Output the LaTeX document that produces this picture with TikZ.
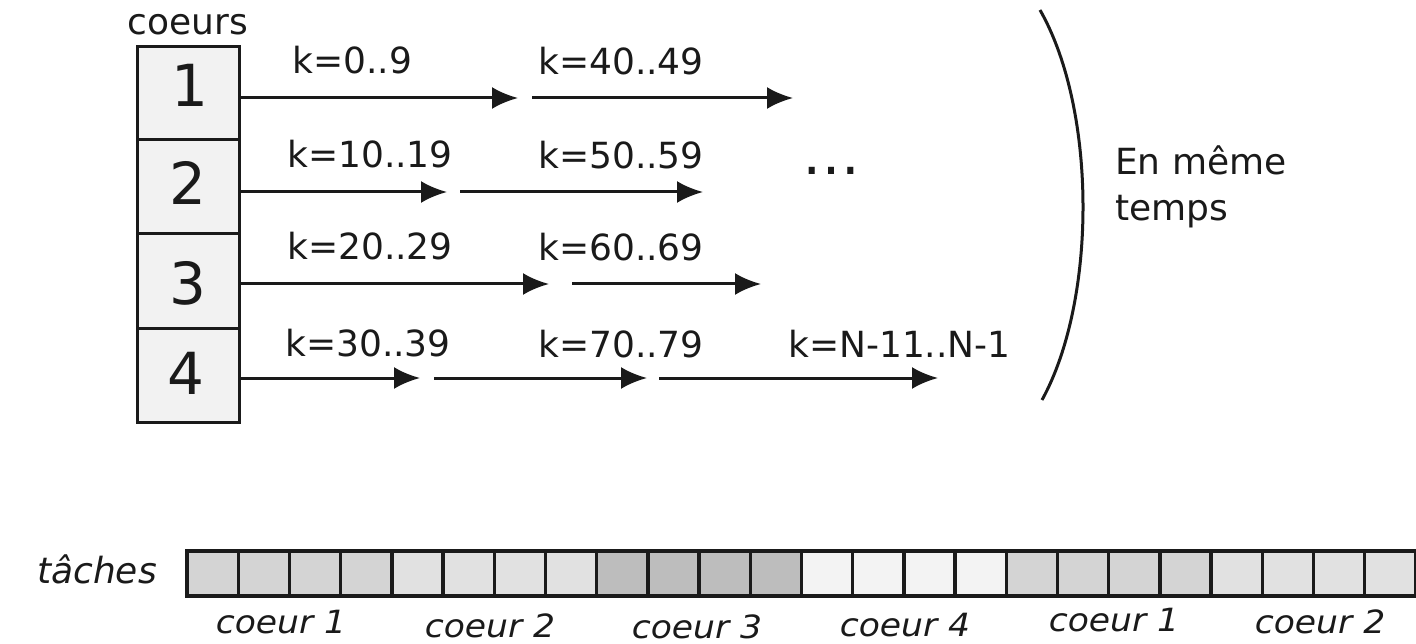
\documentclass[tikz,border=0pt]{standalone}
\usepackage{fontspec}
\setmainfont{DejaVu Sans}
\usetikzlibrary{arrows.meta,calc}

\definecolor{ink}{HTML}{1A1A1A}
\definecolor{boxfill}{HTML}{F2F2F2}
\definecolor{cA}{HTML}{D4D4D4}
\definecolor{cB}{HTML}{E1E1E1}
\definecolor{cC}{HTML}{BDBDBD}
\definecolor{cD}{HTML}{F3F3F3}

\newcommand{\fs}[1]{\fontsize{#1}{#1}\selectfont}

\tikzset{
  x=1pt, y=-1pt,
  corebox/.style={draw=ink, fill=boxfill, line width=3pt,
    minimum width=102pt, minimum height=94pt, inner sep=0pt},
  digit/.style={text=ink, font=\fs{58}, inner sep=0pt},
  klabel/.style={text=ink, font=\fs{36}, anchor=base west, inner sep=0pt},
  runarrow/.style={draw=ink, line width=3pt,
    -{Latex[length=26pt,width=22pt]}},
  cell/.style={draw=ink, line width=3.4pt, minimum width=51.2pt,
    minimum height=45pt, inner sep=0pt},
  celllabel/.style={text=ink, font=\itshape\fs{32}, anchor=base, inner sep=0pt},
}

\begin{document}
\begin{tikzpicture}
\useasboundingbox (0,0) rectangle (1416,644);

% stack of cores
\node[text=ink, font=\fs{36}, anchor=base, inner sep=0pt] (title) at (188,35) {coeurs};
\node[corebox] (c1) at (188,93.5) {};
\node[corebox] (c2) at (188,187) {};
\node[corebox] (c3) at (188,281) {};
\node[corebox] (c4) at (188,375.5) {};
\node[digit] (d1) at (190,85) {1};
\node[digit] (d2) at (188,183) {2};
\node[digit] (d3) at (188,283) {3};
\node[digit] (d4) at (186,373) {4};

% arrow end points, row by row
\coordinate (r1a) at (518,98);
\coordinate (r1b) at (532,98);  \coordinate (r1c) at (793,98);
\coordinate (r2a) at (447,192);
\coordinate (r2b) at (460,192); \coordinate (r2c) at (703,192);
\coordinate (r3a) at (549,284);
\coordinate (r3b) at (572,284); \coordinate (r3c) at (761,284);
\coordinate (r4a) at (420,378);
\coordinate (r4b) at (434,378); \coordinate (r4c) at (647,378);
\coordinate (r4d) at (659,378); \coordinate (r4e) at (938,378);

\draw[runarrow] (c1.east |- r1a) -- (r1a);
\draw[runarrow] (r1b) -- (r1c);
\draw[runarrow] (c2.east |- r2a) -- (r2a);
\draw[runarrow] (r2b) -- (r2c);
\draw[runarrow] (c3.east |- r3a) -- (r3a);
\draw[runarrow] (r3b) -- (r3c);
\draw[runarrow] (c4.east |- r4a) -- (r4a);
\draw[runarrow] (r4b) -- (r4c);
\draw[runarrow] (r4d) -- (r4e);

% index ranges
\node[klabel] (k1) at (292,74) {k=0..9};
\node[klabel] (k2) at (287,168) {k=10..19};
\node[klabel] (k3) at (287,260) {k=20..29};
\node[klabel] (k4) at (285,356) {k=30..39};
\node[klabel] (k5) at (538,75) {k=40..49};
\node[klabel] (k6) at (538,169) {k=50..59};
\node[klabel] (k7) at (538,261) {k=60..69};
\node[klabel] (k8) at (538,357) {k=70..79};
\node[klabel] (k9) at (788,357) {k=N-11..N-1};

\node[text=ink, font=\fs{58}, anchor=base, inner sep=0pt] (dots) at (831,175) {…};

% closing bracket and note
\draw[ink, line width=3pt] (1040,10) .. controls (1097,110) and (1097,300) .. (1042,400);
\node[klabel] (t1) at (1115,175) {En même};
\node[klabel] (t2) at (1115,221) {temps};

% task strip
\node[text=ink, font=\itshape\fs{36}, anchor=base east, inner sep=0pt] (taches) at (157,583) {tâches};
\foreach \i/\c in {0/cA,1/cA,2/cA,3/cA,4/cB,5/cB,6/cB,7/cB,
                   8/cC,9/cC,10/cC,11/cC,12/cD,13/cD,14/cD,15/cD,
                   16/cA,17/cA,18/cA,19/cA,20/cB,21/cB,22/cB,23/cB}{
  \node[cell, fill=\c] (t\i) at ({212.6+51.2*\i},573.5) {};
}

\node[celllabel] (l1) at (281,633) {\scalebox{1.08}[1]{coeur 1}};
\node[celllabel] (l2) at (490,637) {\scalebox{1.08}[1]{coeur 2}};
\node[celllabel] (l3) at (697,638) {\scalebox{1.08}[1]{coeur 3}};
\node[celllabel] (l4) at (905,636) {\scalebox{1.08}[1]{coeur 4}};
\node[celllabel] (l5) at (1114,631) {\scalebox{1.08}[1]{coeur 1}};
\node[celllabel] (l6) at (1320,633) {\scalebox{1.08}[1]{coeur 2}};
\end{tikzpicture}
\end{document}
